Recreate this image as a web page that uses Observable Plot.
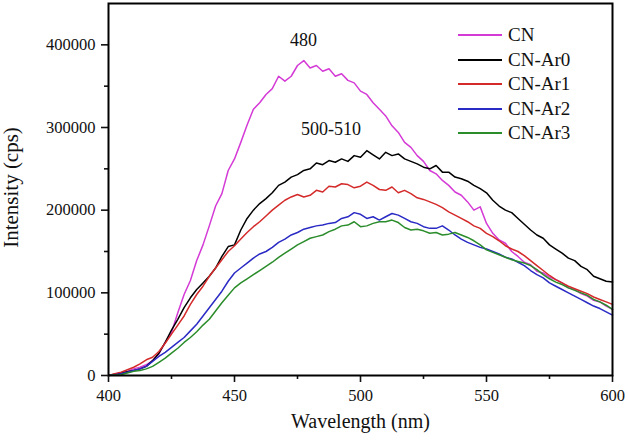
<!DOCTYPE html>
<html>
<head>
<meta charset="utf-8">
<script src="https://cdn.jsdelivr.net/npm/d3@7"></script>
<script src="https://cdn.jsdelivr.net/npm/@observablehq/plot@0.6"></script>
<style>
  html, body { margin: 0; padding: 0; background: #fff; }
  #wrap { position: relative; width: 628px; height: 442px; font-family: "Liberation Serif", "DejaVu Serif", serif; }
  #legend { position: absolute; left: 458px; top: 23px; }
  .row { display: flex; align-items: center; height: 24.5px; font-size: 19px; color: #111; }
  .row svg { margin-right: 6px; }
</style>
</head>
<body>
<div id="wrap"><div id="legend"></div></div>
<script>
// ---- data ----
const wavelengths = d3.range(400, 600.01, 2.5); // 400..600 nm, 2.5 nm step (81 points)

const seriesNames = ["CN", "CN-Ar0", "CN-Ar1", "CN-Ar2", "CN-Ar3"];
const seriesColors = ["#d43ad6", "#000000", "#d42a2a", "#2a2ac4", "#2a8c2a"];

const CN = [
  0,1500,3000,5000,8000,10000,13000,18000,26000,40000,
  52000,76000,98000,115000,139000,158000,181000,205000,220000,248000,
  262000,282000,303000,322000,330000,340000,347000,362000,356000,362000,
  375000,381000,372000,375000,368000,371000,362000,365000,357000,354000,
  344000,340000,330000,322000,314000,302000,294000,282000,276000,266000,
  259000,248000,244000,236000,230000,222000,218000,210000,200000,204000,
  184000,172000,164000,160000,150000,144000,137000,134000,126000,124000,
  119000,116000,112000,106000,104000,99000,96000,91000,89000,84000,
  80000
];
const CN_Ar0 = [
  0,1500,3000,4500,6000,8000,11000,18000,27000,40000,
  55000,68000,82000,94000,104000,112000,120000,130000,144000,156000,
  158000,176000,190000,200000,208000,214000,221000,230000,234000,240000,
  243000,248000,250000,257000,255000,260000,258000,262000,259000,266000,
  264000,272000,267000,262000,270000,266000,268000,262000,259000,256000,
  252000,250000,254000,246000,246000,240000,238000,235000,230000,226000,
  221000,212000,205000,200000,197000,190000,183000,176000,170000,166000,
  158000,153000,148000,142000,139000,132000,128000,120000,117000,114000,
  113000
];
const CN_Ar1 = [
  0,2000,4000,7000,10000,14000,19000,22000,29000,39000,
  50000,61000,72000,86000,98000,108000,120000,130000,140000,150000,
  157000,165000,173000,180000,186000,193000,200000,206000,212000,216000,
  219000,216000,218000,224000,222000,229000,228000,232000,231000,227000,
  229000,234000,230000,225000,224000,228000,221000,224000,220000,215000,
  213000,210000,207000,203000,198000,194000,190000,186000,181000,178000,
  172000,168000,163000,157000,153000,150000,145000,139000,133000,127000,
  121000,116000,112000,108000,105000,102000,99000,95000,92000,89000,
  86000
];
const CN_Ar2 = [
  0,1000,2000,4000,6000,8000,11000,17000,23000,28000,
  34000,40000,46000,54000,62000,72000,82000,92000,102000,114000,
  124000,130000,136000,142000,147000,150000,155000,161000,165000,170000,
  173000,177000,179000,181000,182000,184000,185000,190000,192000,197000,
  195000,190000,192000,188000,192000,196000,194000,190000,186000,184000,
  180000,178000,178000,181000,176000,170000,165000,161000,158000,155000,
  153000,150000,147000,143000,141000,137000,133000,127000,122000,118000,
  112000,108000,104000,100000,96000,92000,88000,84000,81000,77000,
  73000
];
const CN_Ar3 = [
  0,500,1000,3000,5000,6000,8000,11000,16000,21000,
  27000,33000,40000,46000,53000,61000,68000,78000,88000,97000,
  106000,112000,117000,122000,127000,132000,137000,143000,148000,153000,
  158000,162000,166000,168000,170000,174000,177000,181000,182000,186000,
  180000,181000,184000,186000,186000,188000,185000,179000,176000,177000,
  175000,172000,173000,170000,171000,173000,170000,167000,163000,158000,
  152000,149000,146000,143000,140000,138000,136000,133000,128000,122000,
  117000,113000,110000,106000,103000,100000,97000,92000,89000,85000,
  80000
];
const seriesValues = [CN, CN_Ar0, CN_Ar1, CN_Ar2, CN_Ar3];

const xTicks = [400, 450, 500, 550, 600];
const xMinorTicks = [425, 475, 525, 575];
const yTicks = [0, 100000, 200000, 300000, 400000];
const yMinorTicks = [50000, 150000, 250000, 350000];

const annotations = [
  {label: "480", x: 477.4, y: 406000},
  {label: "500-510", x: 488.3, y: 298500}
];

// ---- build table ----
const rows = seriesNames.flatMap((name, i) =>
  seriesValues[i].map((v, j) => ({series: name, wl: wavelengths[j], value: v}))
);

const font = "'Liberation Serif', 'DejaVu Serif', serif";

const chart = Plot.plot({
  width: 628,
  height: 442,
  marginLeft: 108,
  marginRight: 16,
  marginTop: 3,
  marginBottom: 67,
  style: {fontFamily: font, fontSize: "16.5px", color: "#111", background: "transparent"},
  x: {domain: [400, 600]},
  y: {domain: [0, 450000]},
  color: {domain: seriesNames, range: seriesColors},
  marks: [
    Plot.axisY({ticks: yTicks, tickFormat: d3.format("d"), tickSize: 7, tickPadding: 6, label: null, fontSize: 16.5, fontFamily: font, strokeWidth: 1.6}),
    Plot.axisY({ticks: yMinorTicks, tickFormat: () => "", tickSize: 4, label: null, strokeWidth: 1.6}),
    Plot.axisX({ticks: xTicks, tickFormat: d3.format("d"), tickSize: 7, tickPadding: 7, label: null, fontSize: 16.5, fontFamily: font, strokeWidth: 1.6}),
    Plot.axisX({ticks: xMinorTicks, tickFormat: () => "", tickSize: 4, label: null, strokeWidth: 1.6}),
    Plot.line(rows, {x: "wl", y: "value", z: "series", stroke: "series", strokeWidth: 1.5, strokeLinejoin: "round"}),
    Plot.text(annotations, {x: "x", y: "y", text: "label", fontSize: 18, fontFamily: font, fill: "#111", textAnchor: "middle"}),
    Plot.text(["Wavelength (nm)"], {text: d => d, frameAnchor: "bottom", textAnchor: "middle", dy: 52, fontSize: 20, fontFamily: font, fill: "#111"}),
    Plot.text(["Intensity (cps)"], {text: d => d, frameAnchor: "left", textAnchor: "middle", dx: -97, dy: -2, rotate: -90, fontSize: 21, fontFamily: font, fill: "#111"}),
    Plot.frame({stroke: "#000", strokeWidth: 2})
  ]
});

const wrap = document.getElementById("wrap");
wrap.insertBefore(chart, wrap.firstChild);

// ---- legend (overlay, top right inside frame) ----
const legend = d3.select("#legend");
seriesNames.forEach((name, i) => {
  const row = legend.append("div").attr("class", "row");
  const sw = row.append("svg").attr("width", 44).attr("height", 4);
  sw.append("line").attr("x1", 0).attr("x2", 44).attr("y1", 2).attr("y2", 2)
    .attr("stroke", seriesColors[i]).attr("stroke-width", 2);
  row.append("span").text(name);
});
</script>
</body>
</html>
